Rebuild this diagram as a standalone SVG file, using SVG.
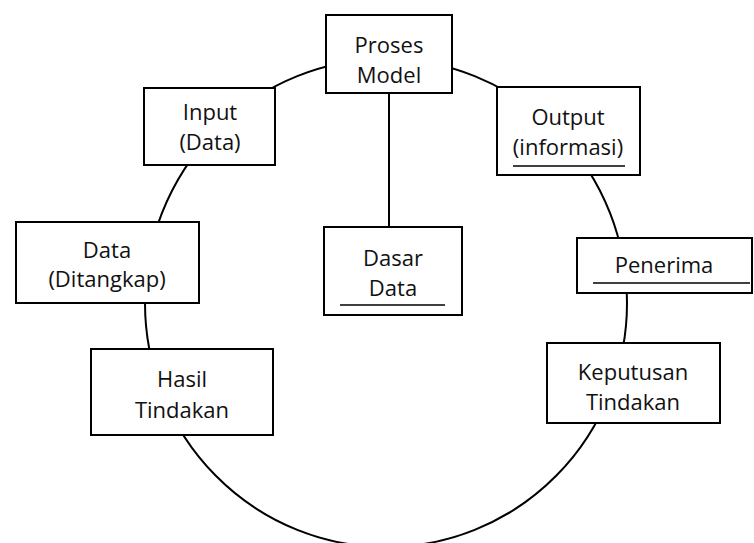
<svg xmlns="http://www.w3.org/2000/svg" width="754" height="543" viewBox="0 0 754 543">
<style>
.box{fill:#fff;stroke:#000;stroke-width:2}
.ln{fill:none;stroke:#000;stroke-width:2}
.ul{stroke:#000;stroke-width:1.5}
text{font-family:"Open Sans","Liberation Sans",sans-serif;font-size:22px;fill:#111;text-anchor:middle}
</style>
<rect width="754" height="543" fill="#fff"/>
<g id="connectors">
<ellipse class="ln" cx="386" cy="303" rx="241" ry="244"/>
<line class="ln" x1="389" y1="93" x2="389" y2="227"/>
</g>
<g id="proses-model">
<rect class="box" x="326" y="15" width="126" height="78"/>
<text x="389" y="53">Proses</text>
<text x="389" y="83">Model</text>
</g>
<g id="input">
<rect class="box" x="144" y="88" width="131" height="77"/>
<text x="210" y="120">Input</text>
<text x="210" y="150">(Data)</text>
</g>
<g id="output">
<rect class="box" x="497" y="87" width="143" height="88"/>
<text x="568" y="125">Output</text>
<text x="568" y="155">(informasi)</text>
<line class="ul" x1="513" y1="166" x2="625" y2="166"/>
</g>
<g id="dasar-data">
<rect class="box" x="324" y="227" width="138" height="88"/>
<text x="393" y="266">Dasar</text>
<text x="393" y="296">Data</text>
<line class="ul" x1="340" y1="305" x2="445" y2="305"/>
</g>
<g id="penerima">
<rect class="box" x="577" y="238" width="175" height="55"/>
<text x="664" y="273">Penerima</text>
<line class="ul" x1="593" y1="283" x2="750" y2="283"/>
</g>
<g id="data-ditangkap">
<rect class="box" x="16" y="222" width="183" height="81"/>
<text x="107" y="258">Data</text>
<text x="107" y="287">(Ditangkap)</text>
</g>
<g id="hasil-tindakan">
<rect class="box" x="91" y="349" width="182" height="86"/>
<text x="182" y="387">Hasil</text>
<text x="182" y="418">Tindakan</text>
</g>
<g id="keputusan-tindakan">
<rect class="box" x="547" y="343" width="173" height="80"/>
<text x="633" y="380">Keputusan</text>
<text x="633" y="410">Tindakan</text>
</g>
</svg>
